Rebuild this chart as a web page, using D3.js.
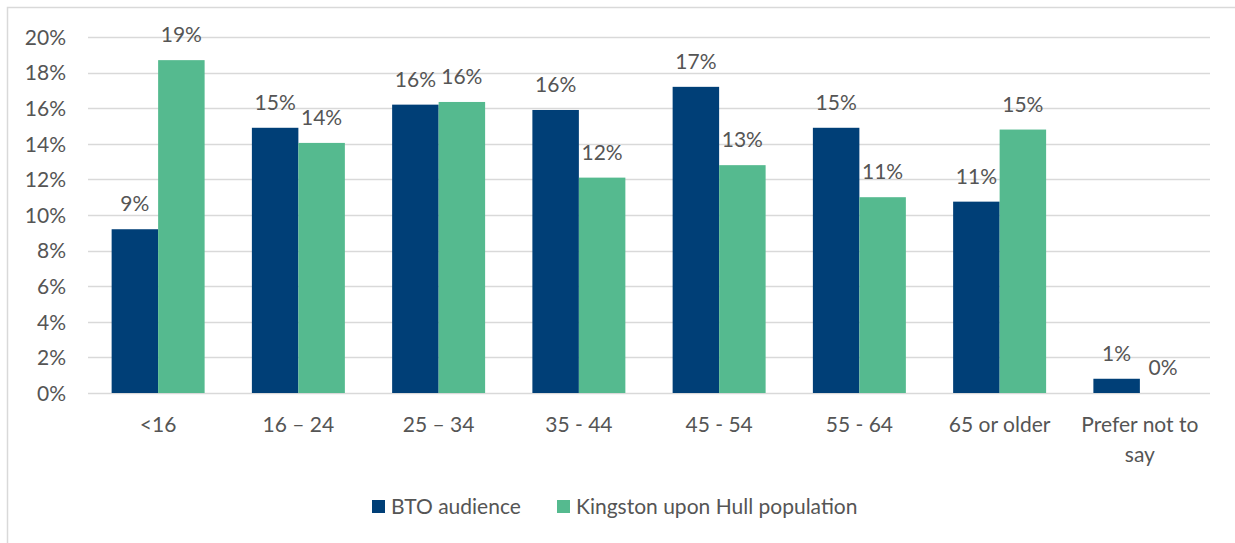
<!DOCTYPE html>
<html>
<head>
<meta charset="utf-8">
<script src="https://cdn.jsdelivr.net/npm/d3@7"></script>
<style>
  html, body { margin: 0; padding: 0; background: #fff; }
  svg text { font-family: "Lato", "Open Sans", sans-serif; fill: #555; }
</style>
</head>
<body>
<svg id="chart" width="1235" height="543"></svg>
<script>
// Age groups and share of each group
const categories = ["<16", "16 – 24", "25 – 34", "35 - 44", "45 - 54", "55 - 64", "65 or older", "Prefer not to say"];
const seriesNames = ["BTO audience", "Kingston upon Hull population"];
const btoAudience = [0.092, 0.149, 0.162, 0.159, 0.172, 0.149, 0.1075, 0.008];
const hullPopulation = [0.187, 0.1405, 0.1635, 0.121, 0.128, 0.110, 0.148, 0.0];
const yTicks = [0, 0.02, 0.04, 0.06, 0.08, 0.10, 0.12, 0.14, 0.16, 0.18, 0.20];
const colors = ["#003F77", "#55BA8F"];

const svg = d3.select("#chart");
const W = 1235, H = 543;
const fontSize = 21;

// outer frame (left and top edges)
svg.append("path")
  .attr("d", `M7.5,${H} V7.5 H${W}`)
  .attr("fill", "none").attr("stroke", "#d9d9d9").attr("stroke-width", 1.5);

const plot = { left: 88, right: 1210, top: 37, bottom: 393 };

const x = d3.scaleBand().domain(categories).range([plot.left, plot.right]).paddingInner(0.337).paddingOuter(0.1685);
const xs = d3.scaleBand().domain(seriesNames).range([0, x.bandwidth()]);
const y = d3.scaleLinear().domain([0, 0.20]).range([plot.bottom, plot.top]);

// horizontal gridlines
svg.append("g").selectAll("line").data(yTicks).join("line")
  .attr("x1", plot.left).attr("x2", plot.right)
  .attr("y1", d => Math.round(y(d)) + 0.5).attr("y2", d => Math.round(y(d)) + 0.5)
  .attr("stroke", "#d9d9d9").attr("stroke-width", 1.6);

// y axis labels
const yAxis = d3.axisLeft(y).tickValues(yTicks).tickFormat(d3.format(".0%")).tickSize(0).tickPadding(0);
const yg = svg.append("g").attr("transform", `translate(66,0)`).call(yAxis);
yg.select(".domain").remove();
yg.selectAll("text").attr("font-size", fontSize).attr("font-family", null).attr("dy", "0.35em");

// bars
const rows = categories.map((c, i) => ({ cat: c, vals: [btoAudience[i], hullPopulation[i]] }));
const groups = svg.append("g").selectAll("g").data(rows).join("g")
  .attr("transform", d => `translate(${x(d.cat)},0)`);

groups.selectAll("rect").data(d => d.vals.map((v, k) => ({ v, k }))).join("rect")
  .attr("x", d => xs(seriesNames[d.k]))
  .attr("width", xs.bandwidth())
  .attr("y", d => y(d.v))
  .attr("height", d => plot.bottom - y(d.v))
  .attr("fill", d => colors[d.k]);

// value labels above bars
groups.selectAll("text").data(d => d.vals.map((v, k) => ({ v, k }))).join("text")
  .attr("x", d => xs(seriesNames[d.k]) + xs.bandwidth() / 2)
  .attr("y", d => y(d.v) - 18)
  .attr("text-anchor", "middle")
  .attr("font-size", fontSize)
  .text(d => d3.format(".0%")(d.v));

// category labels (wrapped where needed)
const catLines = { "Prefer not to say": ["Prefer not to", "say"] };
const xg = svg.append("g");
categories.forEach(c => {
  const lines = catLines[c] || [c];
  const t = xg.append("text")
    .attr("x", x(c) + x.bandwidth() / 2)
    .attr("y", 432)
    .attr("text-anchor", "middle")
    .attr("font-size", fontSize);
  lines.forEach((l, i) => t.append("tspan").attr("x", x(c) + x.bandwidth() / 2).attr("dy", i ? 30 : 0).text(l));
});

// legend
const legend = svg.append("g").attr("transform", "translate(372,500)");
const legX = [0, 185];
seriesNames.forEach((s, i) => {
  const g = legend.append("g").attr("transform", `translate(${legX[i]},0)`);
  g.append("rect").attr("width", 13).attr("height", 13).attr("fill", colors[i]);
  g.append("text").attr("x", 19).attr("y", 14).attr("font-size", fontSize).text(s);
});
</script>
</body>
</html>
